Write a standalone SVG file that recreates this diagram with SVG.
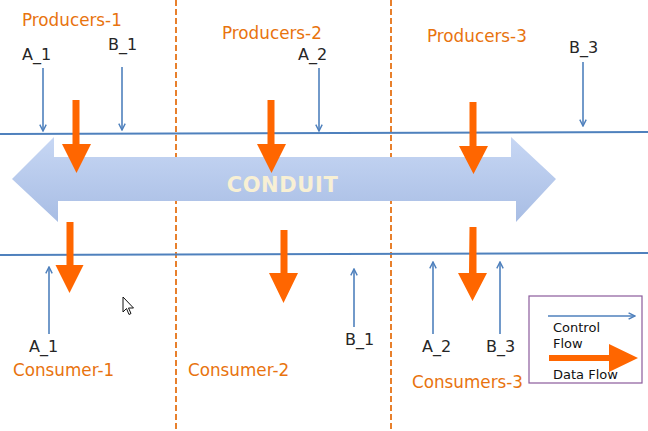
<svg xmlns="http://www.w3.org/2000/svg" width="648" height="431" viewBox="0 0 648 431">
<style>
.lbl{font-family:"DejaVu Sans",sans-serif;font-size:16px;fill:#262626}
.ttl{font-family:"DejaVu Sans",sans-serif;font-size:16.8px;fill:#e8730e}
.lg{font-family:"DejaVu Sans",sans-serif;font-size:13px;fill:#111}
.ctl{stroke:#4f81bd;stroke-width:1.6;fill:none}
.bus{stroke:#4f81bd;stroke-width:2;fill:none}
.div{stroke:#e8802c;stroke-width:2;stroke-dasharray:6,3;fill:none}
.data{fill:#ff6600}
</style>
<defs>
<marker id="ah" viewBox="0 0 10 10" refX="9" refY="5" markerWidth="8" markerHeight="8" markerUnits="userSpaceOnUse" orient="auto">
<polyline points="1,1 9,5 1,9" fill="none" stroke="#4f81bd" stroke-width="1.8"/>
</marker>
<linearGradient id="cg" x1="0" y1="0" x2="0" y2="1">
<stop offset="0" stop-color="#c7d7f4"/>
<stop offset="1" stop-color="#a8bde4"/>
</linearGradient>
</defs>
<rect width="648" height="431" fill="#fff"/>
<g id="dividers">
<line class="div" x1="176" y1="0" x2="176" y2="431"/>
<line class="div" x1="391" y1="0" x2="391" y2="431"/>
</g>
<g id="conduit">
<polygon fill="url(#cg)" points="12,179 54,137 54,157 511,157 511,137 556,179 516,222 516,201 58,201 58,222"/>
<text x="282.5" y="192" text-anchor="middle" font-family="DejaVu Sans,sans-serif" font-weight="bold" font-size="21" letter-spacing="0.6" fill="#f8f0d4">CONDUIT</text>
</g>
<g id="buses">
<line class="bus" x1="0" y1="134" x2="648" y2="132"/>
<line class="bus" x1="0" y1="255" x2="648" y2="253"/>
</g>
<g id="producers">
<text class="ttl" x="22" y="26">Producers-1</text>
<text class="ttl" x="222" y="39">Producers-2</text>
<text class="ttl" x="427" y="42">Producers-3</text>
<text class="lbl" x="22" y="60">A_1</text>
<text class="lbl" x="108" y="50">B_1</text>
<text class="lbl" x="298" y="60">A_2</text>
<text class="lbl" x="569" y="53">B_3</text>
</g>
<g id="consumers">
<text class="ttl" x="13" y="376">Consumer-1</text>
<text class="ttl" x="188" y="376">Consumer-2</text>
<text class="ttl" x="412" y="388">Consumers-3</text>
<text class="lbl" x="29" y="352">A_1</text>
<text class="lbl" x="345" y="345">B_1</text>
<text class="lbl" x="422" y="352">A_2</text>
<text class="lbl" x="486" y="352">B_3</text>
</g>
<g id="connectors">
<line class="ctl" x1="43" y1="68" x2="43" y2="131" marker-end="url(#ah)"/>
<line class="ctl" x1="122" y1="67" x2="122" y2="130" marker-end="url(#ah)"/>
<line class="ctl" x1="319" y1="68" x2="319" y2="131" marker-end="url(#ah)"/>
<line class="ctl" x1="583" y1="62" x2="583" y2="126" marker-end="url(#ah)"/>
<line class="ctl" x1="49" y1="334" x2="49" y2="267" marker-end="url(#ah)"/>
<line class="ctl" x1="354" y1="327" x2="354" y2="269" marker-end="url(#ah)"/>
<line class="ctl" x1="433" y1="334" x2="433" y2="262" marker-end="url(#ah)"/>
<line class="ctl" x1="500" y1="334" x2="500" y2="262" marker-end="url(#ah)"/>
<path class="data" d="M72.5,100h7v44h11.5l-14.5,29l-14.5,-29h10.5z"/>
<path class="data" d="M267.5,100h7v44h11.5l-14.5,29l-14.5,-29h10.5z"/>
<path class="data" d="M469.5,102h7v44h11.5l-14.5,28l-14.5,-28h10.5z"/>
<path class="data" d="M66.5,222h7v43h10l-14,28l-14,-28h11z"/>
<path class="data" d="M280.5,230h7v43h10.5l-14.5,30l-14.5,-30h11.5z"/>
<path class="data" d="M469.5,227h7v46h10.5l-14.5,28l-14.5,-28h11z"/>
</g>
<g id="legend">
<rect x="529" y="296" width="113" height="87" fill="#fff" stroke="#8b5b9c" stroke-width="1.2"/>
<line class="ctl" x1="548" y1="316" x2="635" y2="316" marker-end="url(#ah)"/>
<text class="lg" x="553" y="332">Control</text>
<text class="lg" x="553" y="348">Flow</text>
<path class="data" d="M549,355h60v-11l29,14l-29,14v-11h-60z"/>
<text class="lg" x="553" y="379">Data Flow</text>
</g>
<g id="cursor">
<path d="M123,297v15l3.5,-3.5l2.5,6l2,-1l-2.5,-5.5h5z" fill="#fff" stroke="#111" stroke-width="1"/>
</g>
</svg>
